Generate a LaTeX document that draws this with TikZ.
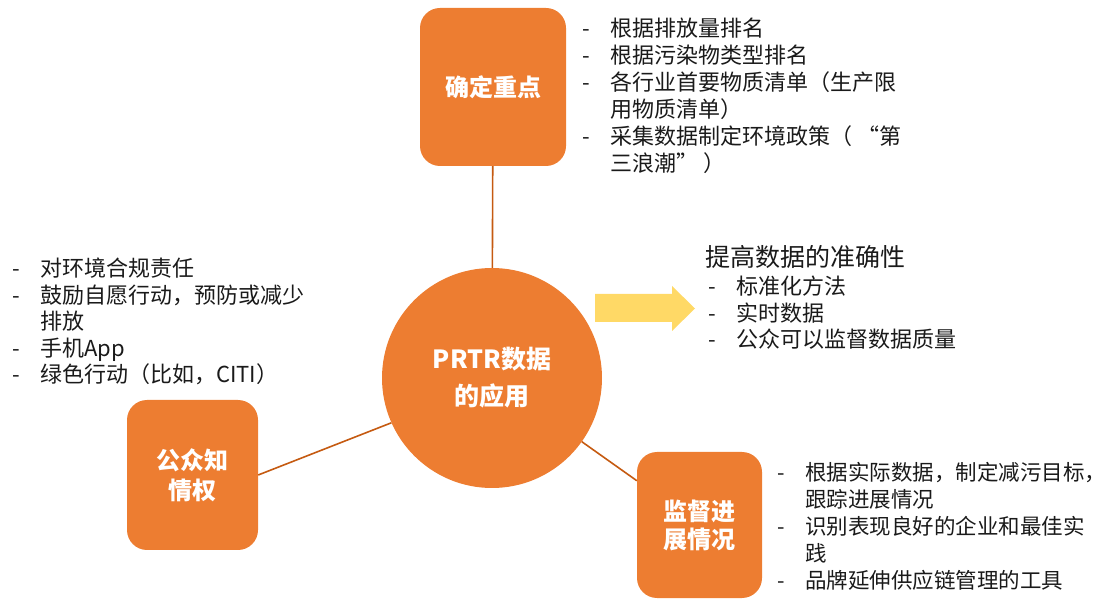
\documentclass[tikz,border=0pt]{standalone}
\usepackage{fontspec}
\setmainfont{Noto Sans CJK SC}
\definecolor{orangeA}{HTML}{ED7D31}
\definecolor{lineA}{HTML}{C55A11}
\definecolor{yellowA}{HTML}{FFD966}
\definecolor{textA}{HTML}{1A1A1A}
\newcommand{\itm}{\makebox[28pt][l]{-}}
\newcommand{\cnt}{\hspace*{28pt}}
\tikzset{
  boxA/.style={fill=orangeA, rounded corners=20pt, inner sep=0pt, text=white, font=\bfseries\fontsize{24}{30}\selectfont, align=center},
  hubA/.style={circle, fill=orangeA, inner sep=0pt, minimum size=220pt, text=white, font=\bfseries\fontsize{25}{37}\selectfont, align=center},
  linkA/.style={draw=lineA, line width=1.6pt},
  listA/.style={anchor=north west, inner sep=0pt, align=left, text=textA, font=\fontsize{22}{27}\selectfont},
  listB/.style={anchor=north west, inner sep=0pt, align=left, text=textA, font=\fontsize{22}{26.5}\selectfont},
}
\begin{document}
\begin{tikzpicture}[x=1pt,y=-1pt]
\path[use as bounding box] (0,0) rectangle (1104,601);
% hub
\node[hubA] (c) at (492,378) {PRTR数据\\的应用};
% boxes
\node[boxA, minimum width=146pt, minimum height=158pt] (T) at (493,87) {确定重点};
\node[boxA, minimum width=131pt, minimum height=150pt] (L) at (192.5,475) {公众知\\情权};
\node[boxA, minimum width=125pt, minimum height=146pt, font=\bfseries\fontsize{24}{28}\selectfont] (B) at (699.5,525) {监督进\\展情况};
% connectors
\draw[linkA] (T) -- (c);
\draw[linkA] (L.east) -- (c.204);
\draw[linkA] (c) -- (B);
% yellow arrow
\fill[yellowA] (595,294) -- (672,294) -- (672,286) -- (695,308.5) -- (672,331) -- (672,322) -- (595,322) -- cycle;
% lists
\node[listA] (tl) at (582,18) {\itm 根据排放量排名\\\itm 根据污染物类型排名\\\itm 各行业首要物质清单（生产限\\\cnt 用物质清单）\\\itm 采集数据制定环境政策（ “第\\\cnt 三浪潮” ）};
\node[listB] (ll) at (12,258) {\itm 对环境合规责任\\\itm 鼓励自愿行动，预防或减少\\\cnt 排放\\\itm 手机App\\\itm 绿色行动（比如，CITI）};
\node[anchor=west, inner sep=0pt, text=textA, font=\fontsize{25}{30}\selectfont] (rt) at (705,257) {提高数据的准确性};
\node[listB] (rl) at (708,276) {\itm 标准化方法\\\itm 实时数据\\\itm 公众可以监督数据质量};
\node[listA, font=\fontsize{21.5}{27}\selectfont] (bl) at (777,462) {\itm 根据实际数据，制定减污目标\makebox[9pt][l]{，}\\\cnt 跟踪进展情况\\\itm 识别表现良好的企业和最佳实\\\cnt 践\\\itm 品牌延伸供应链管理的工具};
\end{tikzpicture}
\end{document}
